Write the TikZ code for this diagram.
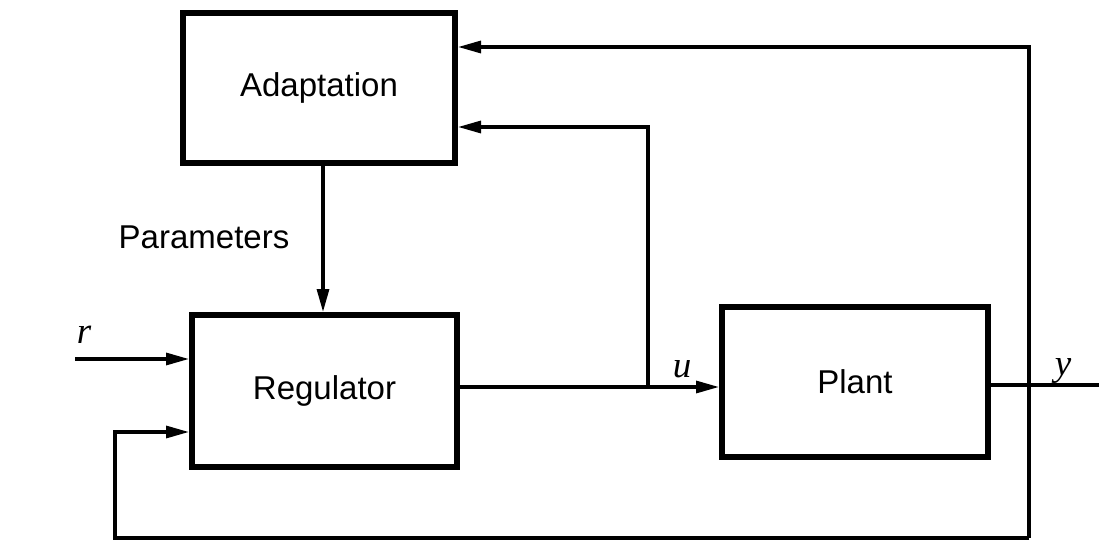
\documentclass[tikz,border=0pt]{standalone}
\usepackage{fontspec}
\setmainfont{Liberation Sans}
\newfontfamily\timesfont{Liberation Serif}
\usetikzlibrary{arrows.meta}
\tikzset{
  blockbox/.style={draw, line width=6pt, rectangle, inner sep=0pt,
    font=\fontsize{33}{39}\selectfont},
  conn/.style={line width=3.2pt},
  arr/.style={conn, -{Triangle[length=23pt,width=12pt]}},
  sig/.style={font=\fontsize{37}{40}\selectfont\timesfont\itshape, inner sep=0pt, anchor=base},
  lbl/.style={font=\fontsize{33}{39}\selectfont, inner sep=0pt}
}
\begin{document}
\begin{tikzpicture}[x=1pt,y=-1pt]
\useasboundingbox (0,0) rectangle (1099,545);
\node[blockbox, minimum width=272pt, minimum height=150pt] (adapt) at (319,88) {Adaptation};
\node[blockbox, minimum width=265pt, minimum height=152pt] (reg) at (324.5,391) {Regulator};
\node[blockbox, minimum width=266pt, minimum height=150pt] (plant) at (855,382) {Plant};

\coordinate (ytop) at (1029,47);
\coordinate (ybot) at (1029,538);
\coordinate (fbl) at (115,538);
\coordinate (fbin) at (115,432);
\coordinate (br) at (648,387);
\coordinate (brtop) at (648,127);
\coordinate (rin) at (75,359);
\coordinate (yout) at (1099,385);
\coordinate (parx) at (323,0);

\draw[arr] (reg.east |- br) -- (plant.west |- br);
\draw[arr] (br) -- (brtop) -- (adapt.east |- brtop);
\draw[arr] (ybot) -- (ytop) -- (adapt.east |- ytop);
\draw[arr] (ybot) -- (fbl) -- (fbin) -- (reg.west |- fbin);
\draw[arr] (rin) -- (reg.west |- rin);
\draw[conn] (plant.east |- yout) -- (yout);
\draw[arr] (adapt.south -| parx) -- (reg.north -| parx);

\node[lbl] (params) at (204,237) {Parameters};
\node[sig] (rlab) at (84,343) {r};
\node[sig] (ulab) at (682,377) {u};
\node[sig] (ylab) at (1063,375) {y};
\end{tikzpicture}
\end{document}
